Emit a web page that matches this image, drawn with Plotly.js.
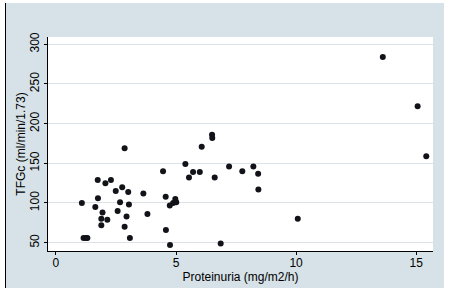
<!DOCTYPE html>
<html>
<head>
<meta charset="utf-8">
<script src="https://cdn.plot.ly/plotly-3.0.1.min.js"></script>
<style>
  html, body { margin: 0; padding: 0; background: #fff; }
  #frame { position: absolute; left: 5px; top: 3px; width: 438px; height: 285px;
           background: #d6e2e7; border-left: 1px solid #000; }
  #chart { position: absolute; left: 0; top: 0; width: 453px; height: 291px; }
</style>
</head>
<body>
<div id="frame"></div>
<div id="chart"></div>
<script>
// Proteinuria (mg/m2/h) vs TFGc (ml/min/1.73)
const proteinuria = [
  1.08, 1.15, 1.25, 1.31, 1.64, 1.74, 1.75, 1.89, 1.89, 1.94,
  2.06, 2.14, 2.29, 2.49, 2.57, 2.67, 2.76, 2.86, 2.86, 2.94,
  3.01, 3.04, 3.08, 3.64, 3.81, 4.46, 4.57, 4.58, 4.74, 4.75,
  4.88, 4.97, 5.01, 5.39, 5.54, 5.71, 5.99, 6.07, 6.50, 6.51,
  6.61, 6.86, 7.21, 7.76, 8.22, 8.42, 8.43, 10.07, 13.61, 15.06,
  15.42
];
const tfgc = [
  100, 56, 56, 56, 95, 129, 106, 80, 72, 88,
  125, 79, 129, 115, 90, 101, 120, 169, 70, 83,
  114, 98, 56, 112, 86, 140, 108, 66, 97, 47,
  100, 105, 101, 149, 132, 139, 139, 171, 186, 182,
  132, 49, 146, 140, 146, 137, 117, 80, 284, 222,
  159
];
const xTicks = [0, 5, 10, 15];
const yTicks = [50, 100, 150, 200, 250, 300];

const trace = {
  x: proteinuria,
  y: tfgc,
  type: 'scatter',
  mode: 'markers',
  marker: { color: '#111318', size: 6 },
  hoverinfo: 'x+y'
};

const font = { family: 'Liberation Sans, Arial, sans-serif', size: 12, color: '#000' };

const layout = {
  width: 453,
  height: 291,
  margin: { l: 48, r: 20, t: 37, b: 40 },
  paper_bgcolor: 'rgba(0,0,0,0)',
  plot_bgcolor: '#fff',
  font: font,
  showlegend: false,
  xaxis: {
    range: [-0.33, 15.7],
    tickvals: xTicks,
    ticktext: xTicks.map(String),
    showgrid: false,
    zeroline: false,
    showline: true,
    linecolor: '#000',
    linewidth: 1,
    ticks: 'outside',
    ticklen: 3,
    tickcolor: '#000',
    ticklabelstandoff: -2,
    title: { text: 'Proteinuria (mg/m2/h)', font: font, standoff: 0 }
  },
  yaxis: {
    range: [39.5, 309.2],
    tickvals: yTicks,
    ticktext: yTicks.map(String),
    tickangle: -90,
    showgrid: true,
    gridcolor: '#dae3e8',
    gridwidth: 1,
    zeroline: false,
    showline: true,
    linecolor: '#000',
    linewidth: 1,
    ticks: 'outside',
    ticklen: 3,
    tickcolor: '#000',
    title: { text: 'TFGc (ml/min/1.73)', font: font, standoff: 0 }
  }
};

Plotly.newPlot('chart', [trace], layout, { displayModeBar: false, staticPlot: true });
</script>
</body>
</html>
